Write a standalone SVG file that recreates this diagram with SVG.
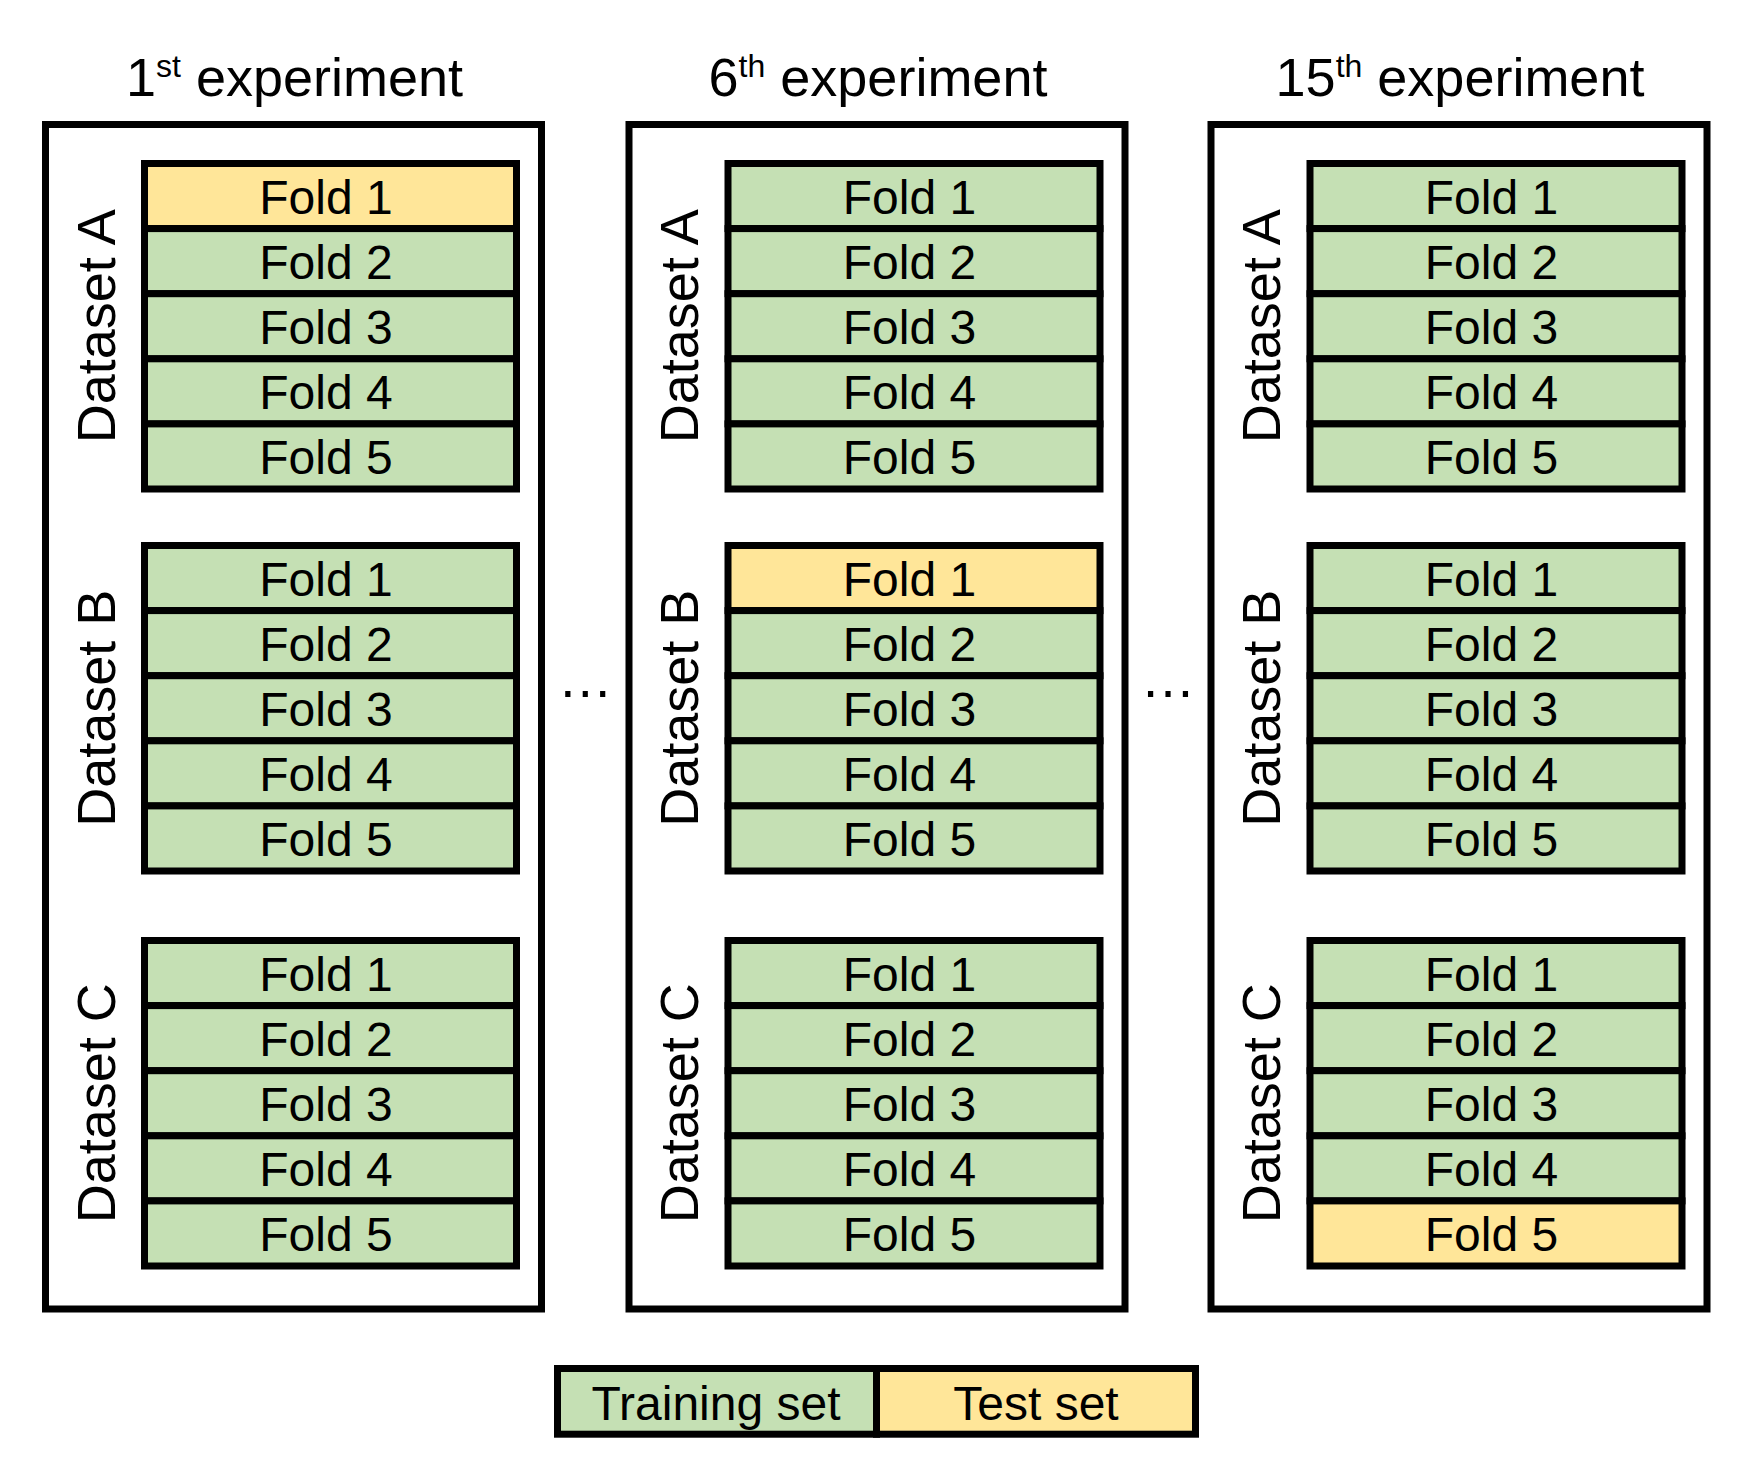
<svg xmlns="http://www.w3.org/2000/svg" width="1760" height="1468" viewBox="0 0 1760 1468">
<style>
text{font-family:"Liberation Sans",Arial,sans-serif;fill:#000}
.frame{fill:#fff;stroke:#000;stroke-width:7}
.tr{fill:#C5E0B4;stroke:#000;stroke-width:7}
.te{fill:#FFE699;stroke:#000;stroke-width:7}
.f{font-size:48px;text-anchor:middle}
.ds{font-size:54px;text-anchor:middle}
.ti{font-size:54px;text-anchor:middle}
.lg{font-size:48px;text-anchor:middle}
.dots{font-size:55px;text-anchor:middle}
</style>
<rect width="1760" height="1468" fill="#fff"/>

<g id="exp1">
<text class="ti" x="294.5" y="96">1<tspan font-size="32" dy="-19">st</tspan><tspan dy="19"> experiment</tspan></text>
<rect class="frame" x="45.5" y="124.5" width="496" height="1184.5"/>
<g id="exp1-A">
<text class="ds" transform="translate(114.5,326.25) rotate(-90)">Dataset A</text>
<rect class="te" x="144.5" y="163.5" width="372" height="65.1"/>
<rect class="tr" x="144.5" y="228.6" width="372" height="65.1"/>
<rect class="tr" x="144.5" y="293.7" width="372" height="65.1"/>
<rect class="tr" x="144.5" y="358.8" width="372" height="65.1"/>
<rect class="tr" x="144.5" y="423.9" width="372" height="65.1"/>
<text class="f" x="326" y="213.5">Fold 1</text>
<text class="f" x="326" y="278.6">Fold 2</text>
<text class="f" x="326" y="343.7">Fold 3</text>
<text class="f" x="326" y="408.8">Fold 4</text>
<text class="f" x="326" y="473.9">Fold 5</text>
</g>
<g id="exp1-B">
<text class="ds" transform="translate(114.5,708.25) rotate(-90)">Dataset B</text>
<rect class="tr" x="144.5" y="545.5" width="372" height="65.1"/>
<rect class="tr" x="144.5" y="610.6" width="372" height="65.1"/>
<rect class="tr" x="144.5" y="675.7" width="372" height="65.1"/>
<rect class="tr" x="144.5" y="740.8" width="372" height="65.1"/>
<rect class="tr" x="144.5" y="805.9" width="372" height="65.1"/>
<text class="f" x="326" y="595.5">Fold 1</text>
<text class="f" x="326" y="660.6">Fold 2</text>
<text class="f" x="326" y="725.7">Fold 3</text>
<text class="f" x="326" y="790.8">Fold 4</text>
<text class="f" x="326" y="855.9">Fold 5</text>
</g>
<g id="exp1-C">
<text class="ds" transform="translate(114.5,1103.25) rotate(-90)">Dataset C</text>
<rect class="tr" x="144.5" y="940.5" width="372" height="65.1"/>
<rect class="tr" x="144.5" y="1005.6" width="372" height="65.1"/>
<rect class="tr" x="144.5" y="1070.7" width="372" height="65.1"/>
<rect class="tr" x="144.5" y="1135.8" width="372" height="65.1"/>
<rect class="tr" x="144.5" y="1200.9" width="372" height="65.1"/>
<text class="f" x="326" y="990.5">Fold 1</text>
<text class="f" x="326" y="1055.6">Fold 2</text>
<text class="f" x="326" y="1120.7">Fold 3</text>
<text class="f" x="326" y="1185.8">Fold 4</text>
<text class="f" x="326" y="1250.9">Fold 5</text>
</g>
</g>

<text class="dots" x="585.3" y="697">…</text>

<g id="exp6">
<text class="ti" x="878" y="96">6<tspan font-size="32" dy="-19">th</tspan><tspan dy="19"> experiment</tspan></text>
<rect class="frame" x="629" y="124.5" width="496" height="1184.5"/>
<g id="exp6-A">
<text class="ds" transform="translate(698,326.25) rotate(-90)">Dataset A</text>
<rect class="tr" x="728" y="163.5" width="372" height="65.1"/>
<rect class="tr" x="728" y="228.6" width="372" height="65.1"/>
<rect class="tr" x="728" y="293.7" width="372" height="65.1"/>
<rect class="tr" x="728" y="358.8" width="372" height="65.1"/>
<rect class="tr" x="728" y="423.9" width="372" height="65.1"/>
<text class="f" x="909.5" y="213.5">Fold 1</text>
<text class="f" x="909.5" y="278.6">Fold 2</text>
<text class="f" x="909.5" y="343.7">Fold 3</text>
<text class="f" x="909.5" y="408.8">Fold 4</text>
<text class="f" x="909.5" y="473.9">Fold 5</text>
</g>
<g id="exp6-B">
<text class="ds" transform="translate(698,708.25) rotate(-90)">Dataset B</text>
<rect class="te" x="728" y="545.5" width="372" height="65.1"/>
<rect class="tr" x="728" y="610.6" width="372" height="65.1"/>
<rect class="tr" x="728" y="675.7" width="372" height="65.1"/>
<rect class="tr" x="728" y="740.8" width="372" height="65.1"/>
<rect class="tr" x="728" y="805.9" width="372" height="65.1"/>
<text class="f" x="909.5" y="595.5">Fold 1</text>
<text class="f" x="909.5" y="660.6">Fold 2</text>
<text class="f" x="909.5" y="725.7">Fold 3</text>
<text class="f" x="909.5" y="790.8">Fold 4</text>
<text class="f" x="909.5" y="855.9">Fold 5</text>
</g>
<g id="exp6-C">
<text class="ds" transform="translate(698,1103.25) rotate(-90)">Dataset C</text>
<rect class="tr" x="728" y="940.5" width="372" height="65.1"/>
<rect class="tr" x="728" y="1005.6" width="372" height="65.1"/>
<rect class="tr" x="728" y="1070.7" width="372" height="65.1"/>
<rect class="tr" x="728" y="1135.8" width="372" height="65.1"/>
<rect class="tr" x="728" y="1200.9" width="372" height="65.1"/>
<text class="f" x="909.5" y="990.5">Fold 1</text>
<text class="f" x="909.5" y="1055.6">Fold 2</text>
<text class="f" x="909.5" y="1120.7">Fold 3</text>
<text class="f" x="909.5" y="1185.8">Fold 4</text>
<text class="f" x="909.5" y="1250.9">Fold 5</text>
</g>
</g>

<text class="dots" x="1168" y="697">…</text>

<g id="exp15">
<text class="ti" x="1460" y="96">15<tspan font-size="32" dy="-19">th</tspan><tspan dy="19"> experiment</tspan></text>
<rect class="frame" x="1211" y="124.5" width="496" height="1184.5"/>
<g id="exp15-A">
<text class="ds" transform="translate(1280,326.25) rotate(-90)">Dataset A</text>
<rect class="tr" x="1310" y="163.5" width="372" height="65.1"/>
<rect class="tr" x="1310" y="228.6" width="372" height="65.1"/>
<rect class="tr" x="1310" y="293.7" width="372" height="65.1"/>
<rect class="tr" x="1310" y="358.8" width="372" height="65.1"/>
<rect class="tr" x="1310" y="423.9" width="372" height="65.1"/>
<text class="f" x="1491.5" y="213.5">Fold 1</text>
<text class="f" x="1491.5" y="278.6">Fold 2</text>
<text class="f" x="1491.5" y="343.7">Fold 3</text>
<text class="f" x="1491.5" y="408.8">Fold 4</text>
<text class="f" x="1491.5" y="473.9">Fold 5</text>
</g>
<g id="exp15-B">
<text class="ds" transform="translate(1280,708.25) rotate(-90)">Dataset B</text>
<rect class="tr" x="1310" y="545.5" width="372" height="65.1"/>
<rect class="tr" x="1310" y="610.6" width="372" height="65.1"/>
<rect class="tr" x="1310" y="675.7" width="372" height="65.1"/>
<rect class="tr" x="1310" y="740.8" width="372" height="65.1"/>
<rect class="tr" x="1310" y="805.9" width="372" height="65.1"/>
<text class="f" x="1491.5" y="595.5">Fold 1</text>
<text class="f" x="1491.5" y="660.6">Fold 2</text>
<text class="f" x="1491.5" y="725.7">Fold 3</text>
<text class="f" x="1491.5" y="790.8">Fold 4</text>
<text class="f" x="1491.5" y="855.9">Fold 5</text>
</g>
<g id="exp15-C">
<text class="ds" transform="translate(1280,1103.25) rotate(-90)">Dataset C</text>
<rect class="tr" x="1310" y="940.5" width="372" height="65.1"/>
<rect class="tr" x="1310" y="1005.6" width="372" height="65.1"/>
<rect class="tr" x="1310" y="1070.7" width="372" height="65.1"/>
<rect class="tr" x="1310" y="1135.8" width="372" height="65.1"/>
<rect class="te" x="1310" y="1200.9" width="372" height="65.1"/>
<text class="f" x="1491.5" y="990.5">Fold 1</text>
<text class="f" x="1491.5" y="1055.6">Fold 2</text>
<text class="f" x="1491.5" y="1120.7">Fold 3</text>
<text class="f" x="1491.5" y="1185.8">Fold 4</text>
<text class="f" x="1491.5" y="1250.9">Fold 5</text>
</g>
</g>

<g id="legend">
<rect class="tr" x="557.5" y="1368.5" width="319" height="65.7"/>
<rect class="te" x="876.5" y="1368.5" width="319" height="65.7"/>
<text class="lg" x="716" y="1420">Training set</text>
<text class="lg" x="1036" y="1420">Test set</text>
</g>
</svg>
